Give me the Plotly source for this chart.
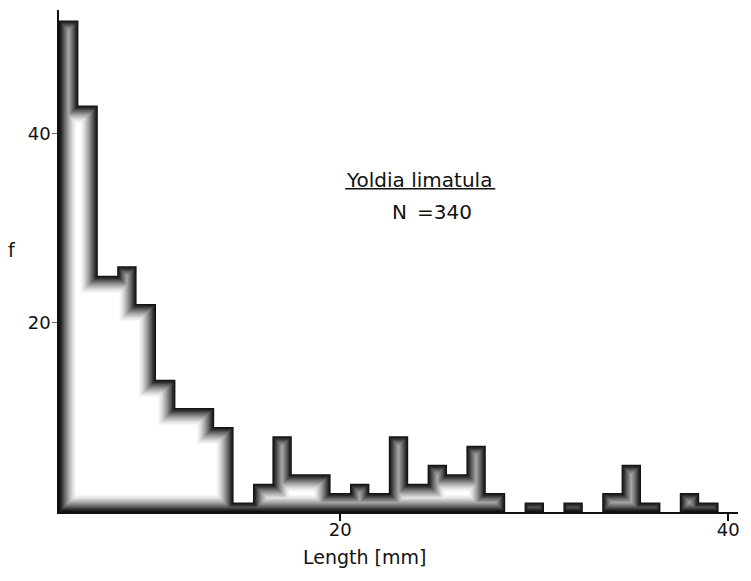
import numpy as np
import plotly.graph_objects as go

# Length classes (mm, bin centres) and frequencies
length_mm = list(range(6, 40))
freq = [52, 43, 25, 26, 22, 14, 11, 11, 9, 1,
        3, 8, 4, 4, 2, 3, 2, 8, 3, 5,
        4, 7, 2, 0, 1, 0, 1, 0, 2, 5,
        1, 0, 2, 1]

x_ticks = [20, 40]
y_ticks = [20, 40]
species = "Yoldia limatula"
sample_size = 340

# Figure geometry
W, H = 751, 581
ML, MR, MT, MB = 59, 13, 10, 68.5
X_RANGE = [5.5, 40.5]
Y_RANGE = [0, 53.1]
px_x = (W - ML - MR) / (X_RANGE[1] - X_RANGE[0])
px_y = (H - MT - MB) / (Y_RANGE[1] - Y_RANGE[0])

lo_edge = length_mm[0] - 0.5
hi_edge = length_mm[-1] + 0.5
edges = np.arange(lo_edge, hi_edge + 0.5, 1.0)


def eroded_outline(d):
    """Histogram silhouette shrunk inward by d pixels (square structuring element)."""
    dx, dy = d / px_x, d / px_y
    bps = sorted(set(np.round(np.concatenate([edges - dx, edges + dx]), 9)))
    runs, cur = [], []
    for a, b in zip(bps[:-1], bps[1:]):
        m = 0.5 * (a + b)
        lo, hi = m - dx, m + dx
        vals = [f for c, f in zip(length_mm, freq) if c + 0.5 > lo and c - 0.5 < hi]
        if lo < lo_edge or hi > hi_edge:
            vals.append(0)
        top = (min(vals) if vals else 0) - dy
        if top > dy + 1e-9:
            cur.append((a, b, top))
        elif cur:
            runs.append(cur)
            cur = []
    if cur:
        runs.append(cur)
    xs, ys = [], []
    for run in runs:
        xs.append(run[0][0]); ys.append(dy)
        for a, b, t in run:
            xs += [a, b]; ys += [t, t]
        xs += [run[-1][1], run[0][0]]; ys += [dy, dy]
        xs.append(None); ys.append(None)
    return xs, ys


# Shading: dark rim that fades to white toward the inside of the silhouette
stops_d = [0, 2, 5, 9, 13, 17]
stops_g = [18, 45, 100, 165, 220, 255]

fig = go.Figure()
for d in np.arange(0, 18, 1.0):
    xs, ys = eroded_outline(d)
    if not xs:
        continue
    g = int(round(np.interp(d, stops_d, stops_g)))
    fig.add_trace(go.Scatter(
        x=xs, y=ys, mode="lines", fill="toself",
        fillcolor=f"rgb({g},{g},{g})", line=dict(width=0),
        hoverinfo="skip", showlegend=False,
    ))

FONT = "'DejaVu Sans', sans-serif"
INK = "#111"

fig.update_layout(
    width=W, height=H,
    margin=dict(l=ML, r=MR, t=MT, b=MB, pad=0),
    paper_bgcolor="white", plot_bgcolor="white",
    font=dict(family=FONT, color=INK, size=16),
    xaxis=dict(
        range=X_RANGE, tickvals=x_ticks, ticks="outside", ticklen=7,
        tickwidth=1.5, tickcolor=INK, showgrid=False, zeroline=False,
        showline=True, linecolor=INK, linewidth=1.5,
        tickfont=dict(size=18), ticklabelstandoff=-6,
    ),
    yaxis=dict(
        range=Y_RANGE, tickvals=y_ticks, ticks="outside", ticklen=5,
        tickwidth=1.2, tickcolor="#666", showgrid=False, zeroline=False,
        showline=True, linecolor=INK, linewidth=1.5,
        tickfont=dict(size=18), ticklabelstandoff=-2,
    ),
)

# Species name, underlined, with sample size
fig.add_annotation(x=24.07, y=35.1, xref="x", yref="y", text=species,
                   showarrow=False, yanchor="middle",
                   font=dict(size=20, family=FONT))
fig.add_shape(type="line", xref="x", yref="y", x0=20.25, x1=27.99,
              y0=34.2, y1=34.2, line=dict(color=INK, width=1.5))
fig.add_annotation(x=24.74, y=31.7, xref="x", yref="y",
                   text=f"N\u2002={sample_size}", showarrow=False,
                   yanchor="middle",
                   font=dict(size=20, family=FONT))

# Axis titles
fig.add_annotation(x=-0.069, y=0.5224, xref="paper", yref="paper", text="f",
                   showarrow=False, xanchor="center", yanchor="middle",
                   font=dict(size=19, family=FONT))
fig.add_annotation(x=0.4495, y=-0.0905, xref="paper", yref="paper",
                   text="Length [mm]", showarrow=False,
                   xanchor="center", yanchor="middle",
                   font=dict(size=19, family=FONT))

fig.write_html("out.html")
